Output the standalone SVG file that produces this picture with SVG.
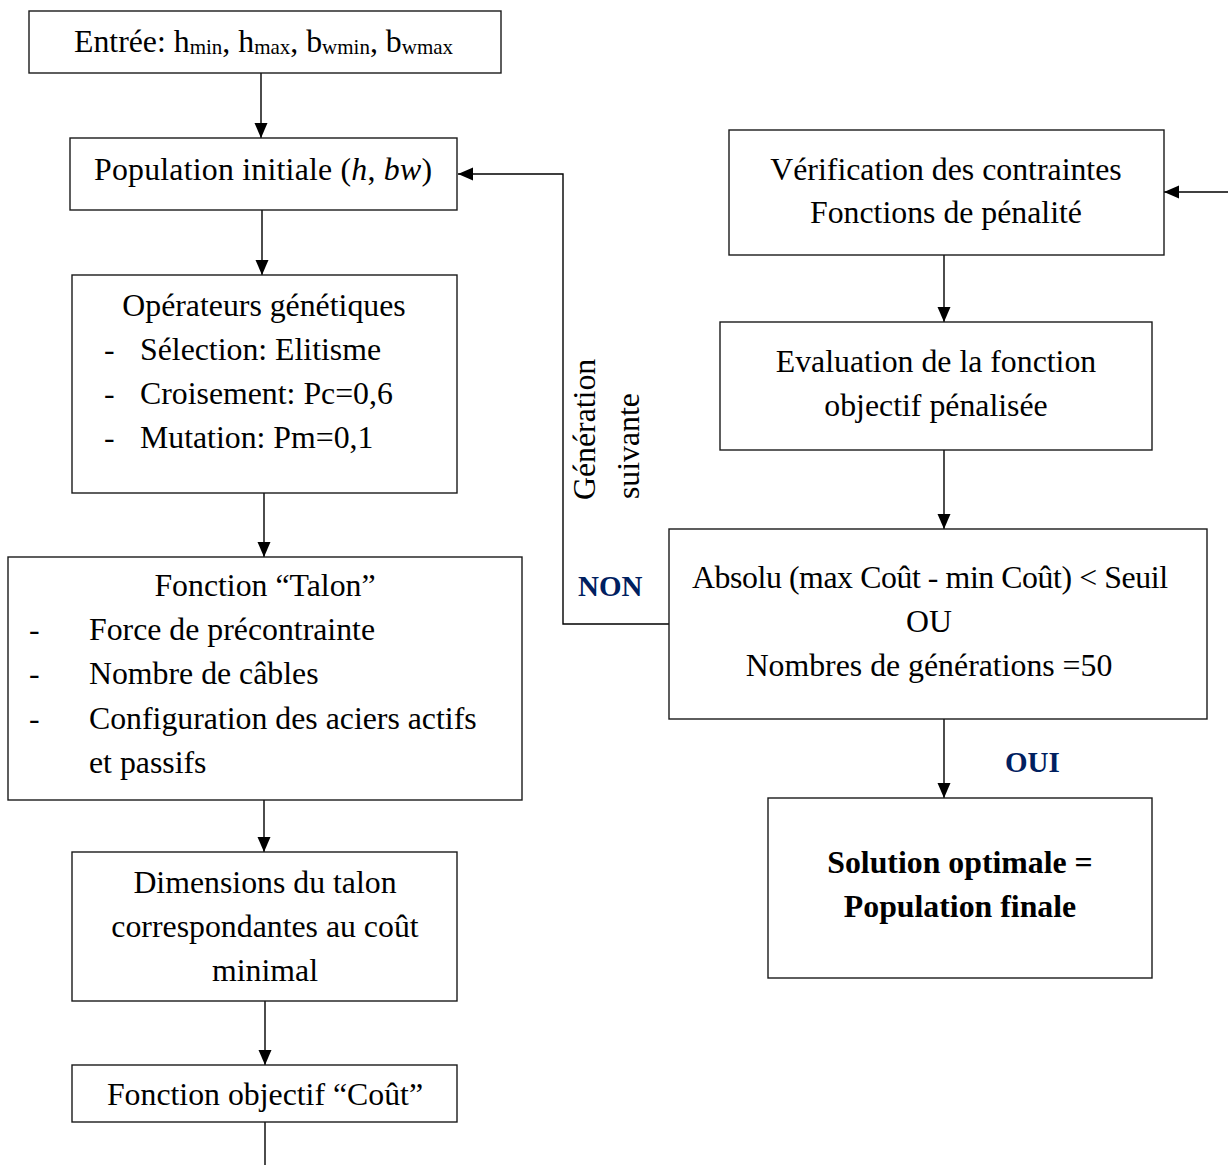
<svg xmlns="http://www.w3.org/2000/svg" width="1228" height="1165" viewBox="0 0 1228 1165">
<style>
.box{fill:#fff;stroke:#1a1a1a;stroke-width:1.4}
.t{font-family:"Liberation Serif","Times New Roman",serif;font-size:31.8px;fill:#000}
.c{text-anchor:middle}
.b{font-weight:bold}
.sub{font-size:21px}
.lbl{font-family:"Liberation Serif","Times New Roman",serif;font-size:29px;font-weight:bold;fill:#002060}
.ln{fill:none;stroke:#000;stroke-width:1.4}
</style>
<defs>
<marker id="ah" markerUnits="userSpaceOnUse" markerWidth="16" markerHeight="14" refX="15" refY="6.5" orient="auto">
<path d="M0,0 L15,6.5 L0,13 z" fill="#000"/>
</marker>
</defs>
<rect width="1228" height="1165" fill="#fff"/>
<g id="connectors">
<line class="ln" x1="261" y1="73" x2="261" y2="138" marker-end="url(#ah)"/>
<line class="ln" x1="262" y1="210" x2="262" y2="275" marker-end="url(#ah)"/>
<line class="ln" x1="264" y1="493" x2="264" y2="557" marker-end="url(#ah)"/>
<line class="ln" x1="264" y1="800" x2="264" y2="852" marker-end="url(#ah)"/>
<line class="ln" x1="265" y1="1001" x2="265" y2="1065" marker-end="url(#ah)"/>
<line class="ln" x1="265" y1="1122" x2="265" y2="1165"/>
<line class="ln" x1="944" y1="255" x2="944" y2="322" marker-end="url(#ah)"/>
<line class="ln" x1="944" y1="450" x2="944" y2="529" marker-end="url(#ah)"/>
<line class="ln" x1="944" y1="719" x2="944" y2="798" marker-end="url(#ah)"/>
<polyline class="ln" points="669,624 563,624 563,174 458,174" marker-end="url(#ah)"/>
<line class="ln" x1="1228" y1="192" x2="1164" y2="192" marker-end="url(#ah)"/>
<text class="t" transform="translate(595,500) rotate(-90)">Génération</text>
<text class="t" transform="translate(639,499) rotate(-90)">suivante</text>
<text class="lbl" x="578" y="596">NON</text>
<text class="lbl" x="1005" y="772">OUI</text>
</g>
<g id="n-entree">
<rect class="box" x="29" y="11" width="472" height="62"/>
<text class="t" x="74" y="52">Entrée: h<tspan class="sub" dy="2">min</tspan><tspan dy="-2">, h</tspan><tspan class="sub" dy="2">max</tspan><tspan dy="-2">, b</tspan><tspan class="sub" dy="2">wmin</tspan><tspan dy="-2">, b</tspan><tspan class="sub" dy="2">wmax</tspan></text>
</g>
<g id="n-population">
<rect class="box" x="70" y="138" width="387" height="72"/>
<text class="t c" x="263" y="180" textLength="338" lengthAdjust="spacing">Population initiale (<tspan font-style="italic">h</tspan>, <tspan font-style="italic">bw</tspan>)</text>
</g>
<g id="n-operateurs">
<rect class="box" x="72" y="275" width="385" height="218"/>
<text class="t c" x="264" y="316">Opérateurs génétiques</text>
<text class="t" x="104" y="360">-</text><text class="t" x="140" y="360">Sélection: Elitisme</text>
<text class="t" x="104" y="404">-</text><text class="t" x="140" y="404">Croisement: Pc=0,6</text>
<text class="t" x="104" y="448">-</text><text class="t" x="140" y="448">Mutation: Pm=0,1</text>
</g>
<g id="n-talon">
<rect class="box" x="8" y="557" width="514" height="243"/>
<text class="t c" x="265" y="596">Fonction “Talon”</text>
<text class="t" x="29" y="640">-</text><text class="t" x="89" y="640">Force de précontrainte</text>
<text class="t" x="29" y="684">-</text><text class="t" x="89" y="684">Nombre de câbles</text>
<text class="t" x="29" y="729">-</text><text class="t" x="89" y="729">Configuration des aciers actifs</text>
<text class="t" x="89" y="773">et passifs</text>
</g>
<g id="n-dimensions">
<rect class="box" x="72" y="852" width="385" height="149"/>
<text class="t c" x="265" y="893">Dimensions du talon</text>
<text class="t c" x="265" y="937">correspondantes au coût</text>
<text class="t c" x="265" y="981">minimal</text>
</g>
<g id="n-cout">
<rect class="box" x="72" y="1065" width="385" height="57"/>
<text class="t c" x="265" y="1105">Fonction objectif “Coût”</text>
</g>
<g id="n-verification">
<rect class="box" x="729" y="130" width="435" height="125"/>
<text class="t c" x="946" y="180">Vérification des contraintes</text>
<text class="t c" x="946" y="223">Fonctions de pénalité</text>
</g>
<g id="n-evaluation">
<rect class="box" x="720" y="322" width="432" height="128"/>
<text class="t c" x="936" y="372">Evaluation de la fonction</text>
<text class="t c" x="936" y="416">objectif pénalisée</text>
</g>
<g id="n-critere">
<rect class="box" x="669" y="529" width="538" height="190"/>
<text class="t c" x="930" y="588" textLength="476" lengthAdjust="spacing">Absolu (max Coût - min Coût) &lt; Seuil</text>
<text class="t c" x="929" y="632">OU</text>
<text class="t c" x="929" y="676">Nombres de générations =50</text>
</g>
<g id="n-solution">
<rect class="box" x="768" y="798" width="384" height="180"/>
<text class="t c b" x="960" y="873">Solution optimale =</text>
<text class="t c b" x="960" y="917">Population finale</text>
</g>
</svg>
